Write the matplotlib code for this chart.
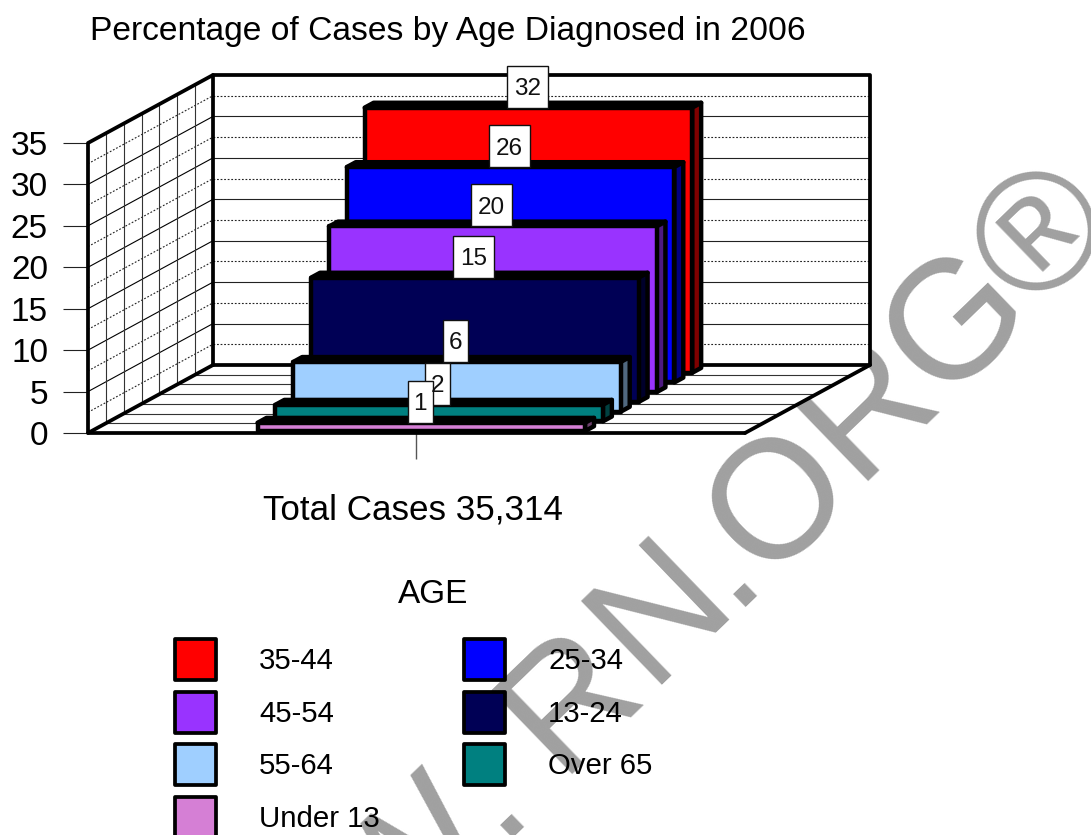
import math
import matplotlib
matplotlib.use("Agg")
import matplotlib.pyplot as plt
from matplotlib.patches import Polygon, Rectangle

plt.rcParams['font.family'] = ['Liberation Sans', 'DejaVu Sans']

# series, back to front
ages = ["35-44", "25-34", "45-54", "13-24", "55-64", "Over 65", "Under 13"]
percent = [32, 26, 20, 15, 6, 2, 1]
face_colors = ["#FF0000", "#0000FF", "#9933FF", "#000055", "#9FCFFF", "#008080", "#D57FD5"]
side_colors = ["#800000", "#000080", "#4D1A80", "#00002B", "#50687F", "#004040", "#6B406B"]
y_ticks = [0, 5, 10, 15, 20, 25, 30, 35]
minor_ticks = [2.5, 7.5, 12.5, 17.5, 22.5, 27.5, 32.5]

# the fake 3D box, in pixels
X0, Y0 = 88, 433
FLOOR_W = 657
DX, DY = 125 / 7, 68 / 7
PX_PER_UNIT = 290 / 35
BAR_W = 327.5
BAR_PAD = 166
BAR_GAP = 0.2
BAR_DEPTH = 0.5
THICK = 2.7
BAR_LW = 3.2
THIN = 0.8

fig = plt.figure(figsize=(10.91, 8.35), dpi=100)
ax = fig.add_axes([0, 0, 1, 1])
ax.set_xlim(0, 1091)
ax.set_ylim(835, 0)
ax.axis("off")


def project(x, value, depth):
    return x + depth * DX, Y0 - depth * DY - value * PX_PER_UNIT


def line(p, q, **kw):
    kw.setdefault("color", "black")
    kw.setdefault("lw", THIN)
    ax.plot([p[0], q[0]], [p[1], q[1]], solid_capstyle="butt", **kw)


# watermark goes under everything, letter by letter: glyph centre, half height in em
WM_EM = 168
WM_ANGLE = 44
wm_letters = [("W", 405, 859, 0.358), (".", 509, 816, 0.05), ("R", 560, 688, 0.358),
              ("N", 650, 600, 0.358), (".", 742, 585, 0.05), ("O", 770, 491, 0.358),
              ("R", 856, 395, 0.358), ("G", 946, 312, 0.358), ("®", 1035, 228, 0.358)]
sin_a = math.sin(math.radians(WM_ANGLE))
cos_a = math.cos(math.radians(WM_ANGLE))
for ch, cx, cy, half in wm_letters:
    ax.text(cx + sin_a * half * WM_EM, cy + cos_a * half * WM_EM, ch, color="#A0A0A0",
            fontsize=WM_EM * 0.72, rotation=WM_ANGLE, rotation_mode="anchor",
            ha="center", va="baseline", zorder=0)

# walls and floor
top = y_ticks[-1]
ax.add_patch(Polygon([project(X0, 0, 0), project(X0, 0, 7), project(X0 + FLOOR_W, 0, 7),
                      project(X0 + FLOOR_W, 0, 0)], fc="white", ec="none", zorder=1))
ax.add_patch(Polygon([project(X0, 0, 0), project(X0, top, 0), project(X0, top, 7),
                      project(X0, 0, 7)], fc="white", ec="none", zorder=1))
ax.add_patch(Rectangle(project(X0, top, 7), FLOOR_W, top * PX_PER_UNIT, fc="white", ec="none", zorder=1))

for v in y_ticks[1:-1]:
    line(project(X0, v, 0), project(X0, v, 7))
    line(project(X0, v, 7), project(X0 + FLOOR_W, v, 7), color="#222222")
dots = (0, (1.6, 1.6))
for v in minor_ticks:
    line(project(X0, v, 0), project(X0, v, 7), linestyle=dots, color="#222222")
    line(project(X0, v, 7), project(X0 + FLOOR_W, v, 7), linestyle=dots, color="#222222")
for d in range(1, 7):
    line(project(X0, 0, d), project(X0, top, d), color="#333333")
    line(project(X0, 0, d), project(X0 + FLOOR_W, 0, d), color="#333333")

# axis ticks and labels
for v in y_ticks:
    px, py = project(X0, v, 0)
    line((px - 25, py), (px, py), color="#222222")
    ax.text(48, py, str(v), fontsize=24, ha="right", va="center_baseline")
line((416, Y0), (416, 459), color="#555555", lw=1.0)

# box outline
outline = dict(color="black", lw=THICK, solid_joinstyle="round", solid_capstyle="round")
ax.plot(*zip(project(X0, 0, 7), project(X0, top, 7), project(X0 + FLOOR_W, top, 7),
             project(X0 + FLOOR_W, 0, 7), project(X0 + FLOOR_W, 0, 0)), **outline)
ax.plot(*zip(project(X0, 0, 7), project(X0 + FLOOR_W, 0, 7)), **outline)
ax.plot(*zip(project(X0, 0, 7), project(X0, 0, 0), project(X0, top, 0), project(X0, top, 7)), **outline)
ax.plot(*zip(project(X0, 0, 0), project(X0 + FLOOR_W, 0, 0)), **outline)

# bars, drawn from the back forward, labels on top of all of them
n = len(ages)
for i, (val, fc, sc) in enumerate(zip(percent, face_colors, side_colors)):
    d = n - 1 - i + BAR_GAP
    left = X0 + BAR_PAD
    right = left + BAR_W
    d2 = d + BAR_DEPTH
    style = dict(ec="black", lw=BAR_LW, joinstyle="round", zorder=3 + i)
    ax.add_patch(Polygon([project(left, val, d), project(left, val, d2),
                          project(right, val, d2), project(right, val, d)], fc="black", **style))
    ax.add_patch(Polygon([project(right, 0, d), project(right, val, d),
                          project(right, val, d2), project(right, 0, d2)], fc=sc, **style))
    bx, by = project(left, val, d)
    ax.bar(bx + BAR_W / 2, val * PX_PER_UNIT, width=BAR_W, bottom=by, color=fc,
           edgecolor="black", linewidth=BAR_LW, joinstyle="round", zorder=3 + i)

for i, val in enumerate(percent):
    d = n - 1 - i + BAR_GAP
    cx, by = project(X0 + BAR_PAD + 325 / 2, val, d)
    w = 41 if val >= 10 else 25
    ax.add_patch(Rectangle((cx - w / 2, by - 42), w, 42, fc="white", ec="#111111", lw=1.0, zorder=20))
    ax.text(cx, by - 21, str(val), fontsize=17.5, ha="center", va="center_baseline", color="#111111", zorder=21)

# titles
ax.text(90, 28, "Percentage of Cases by Age Diagnosed in 2006", fontsize=24.2, ha="left", va="center_baseline")
ax.text(413, 507, "Total Cases 35,314", fontsize=25.2, ha="center", va="center_baseline")
ax.text(433, 591, "AGE", fontsize=24, ha="center", va="center_baseline")

# legend
leg_x = [173, 462]
leg_y = [637, 690, 742, 795]
for i, (name, fc) in enumerate(zip(ages, face_colors)):
    lx = leg_x[i % 2]
    ly = leg_y[i // 2]
    ax.add_patch(Rectangle((lx + 1.5, ly + 1.5), 41.5, 41.5, fc=fc, ec="black", lw=THICK,
                           joinstyle="round", zorder=3))
    ax.text(lx + 86, ly + 21, name, fontsize=21.2, ha="left", va="center_baseline", zorder=3)

fig.savefig("out.png", dpi=100)
